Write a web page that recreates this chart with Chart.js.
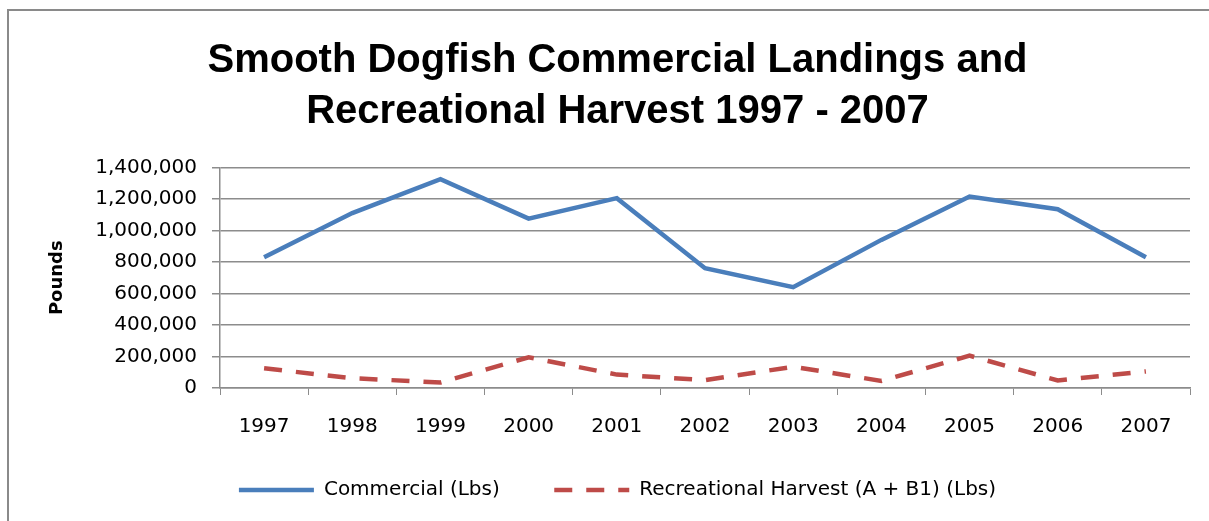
<!DOCTYPE html>
<html>
<head>
<meta charset="utf-8">
<script src="https://cdn.jsdelivr.net/npm/chart.js@4/dist/chart.umd.min.js"></script>
<style>
	body { margin: 0; background: #fff; overflow: hidden; }
	#frame { position: absolute; left: 7px; top: 9px; width: 1400px; height: 700px; border: 2px solid #8a8a8a; }
	#plot { position: absolute; left: 0; top: 0; }
</style>
</head>
<body>
<div id="frame"></div>
<canvas id="plot" width="1209" height="521"></canvas>
<script>
const years = ['1997', '1998', '1999', '2000', '2001', '2002', '2003', '2004', '2005', '2006', '2007'];
const commercial = [830000, 1110000, 1325000, 1075000, 1205000, 760000, 640000, 940000, 1215000, 1135000, 830000];
const recreational = [125000, 62000, 35000, 195000, 85000, 50000, 135000, 45000, 205000, 48000, 105000];
const titleLines = ['Smooth Dogfish Commercial Landings and', 'Recreational Harvest 1997 - 2007'];

const gridGray = '#8c8c8c';
const tickFont = {family: 'DejaVu Sans', size: 20};

const ctx = document.getElementById('plot').getContext('2d');
const chart = new Chart(ctx, {
	type: 'line',
	data: {
		labels: years,
		datasets: [
			{
				label: 'Commercial (Lbs)',
				data: commercial,
				borderColor: '#4a7ebb',
				backgroundColor: '#4a7ebb',
				borderWidth: 4.5,
				pointRadius: 0,
				tension: 0,
			},
			{
				label: 'Recreational Harvest (A + B1) (Lbs)',
				data: recreational,
				borderColor: '#be4b48',
				backgroundColor: '#be4b48',
				borderWidth: 4.5,
				borderDash: [18, 14],
				pointRadius: 0,
				tension: 0,
			},
		]
	},
	options: {
		responsive: false,
		animation: false,
		layout: {padding: {left: 45, right: 19, top: 12, bottom: 11}},
		plugins: {
			title: {
				display: true,
				text: titleLines,
				color: '#000',
				font: {family: 'Liberation Sans', size: 40, weight: 'bold', lineHeight: 1.28},
				padding: {top: 23, bottom: 30},
			},
			legend: {
				position: 'bottom',
				labels: {
					usePointStyle: true,
					pointStyle: 'line',
					pointStyleWidth: 75,
					padding: 10,
					color: '#000',
					font: tickFont,
					// point style drops the dash, so put it back; extra room after the first item
					generateLabels: (chart) => Chart.defaults.plugins.legend.labels.generateLabels(chart)
						.map((item, i) => ({
							...item,
							text: i === 0 ? item.text + '\u00a0'.repeat(7) : item.text,
							lineDash: chart.data.datasets[i].borderDash || [],
							lineWidth: 4.5,
							strokeStyle: chart.data.datasets[i].borderColor,
						})),
				}
			},
			tooltip: {enabled: false},
		},
		scales: {
			x: {
				offset: true,
				grid: {display: true, offset: true, drawOnChartArea: false, drawTicks: true, tickLength: 7, color: gridGray},
				border: {color: gridGray, width: 1.5},
				ticks: {color: '#000', font: tickFont, padding: 20, maxRotation: 0},
				afterFit: (scale) => { scale.height = 82; },
			},
			y: {
				min: 0,
				max: 1400000,
				ticks: {stepSize: 200000, color: '#000', font: tickFont, padding: 15},
				grid: {color: gridGray, lineWidth: 1.5, tickLength: 8},
				border: {color: gridGray, width: 1.5},
				title: {display: true, text: 'Pounds', color: '#000', font: {family: 'DejaVu Sans', size: 18, weight: 'bold'}, padding: {top: 2}},
				afterFit: (scale) => { scale.width = 175; },
			}
		}
	}
});
</script>
</body>
</html>
